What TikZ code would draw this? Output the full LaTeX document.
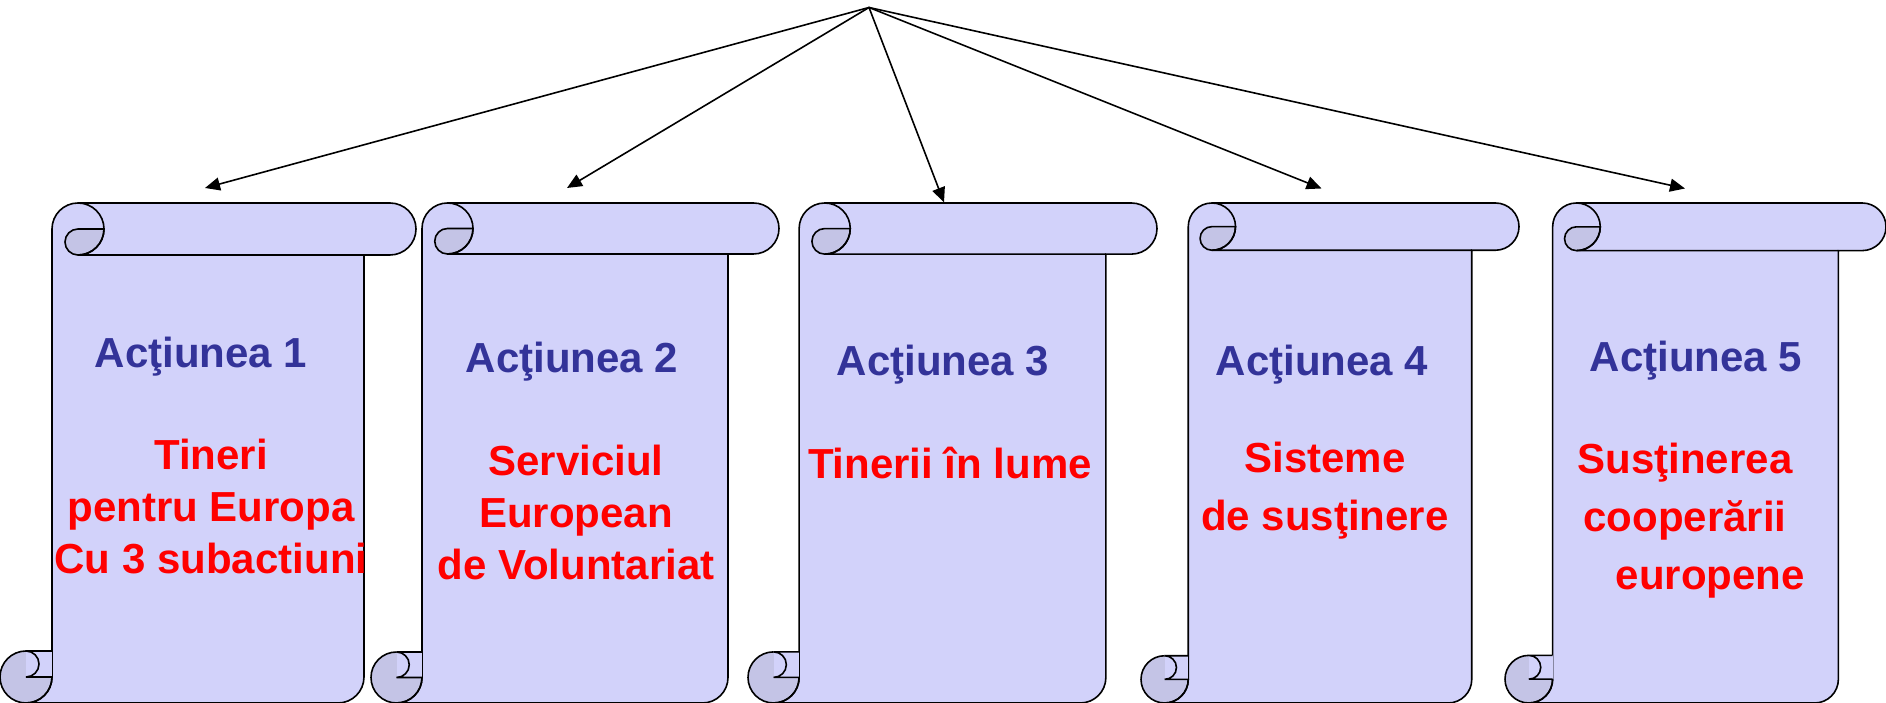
\documentclass[tikz,border=0pt]{standalone}
\usepackage{fontspec}
\setmainfont{Liberation Sans}
\usepackage{tikz}
\usepackage{tkz-euclide}
\usepackage{xcolor}
\usetikzlibrary{arrows.meta}
\definecolor{scrolllight}{RGB}{210,210,250}
\definecolor{scrolldark}{RGB}{196,196,230}
\definecolor{actblue}{RGB}{51,51,153}
\newcommand{\DrawScroll}[3]{%
  \pgfmathsetmacro{\rollD}{#2/8}%
  \pgfmathsetmacro{\rollR}{\rollD/2}%
  \pgfmathsetmacro{\rollQ}{\rollD/4}%
  \begin{scope}[shift={(#1,0)}]
    \fill[scrolldark] (\rollR,\rollR) circle[radius=\rollR pt];
    \filldraw[fill=scrolllight] (\rollR,0) -- ({#2-1.5*\rollD},0) arc[start angle=-90,end angle=0,radius=\rollR pt]
      -- ({#2-\rollD},{#3-\rollD}) -- ({#2-\rollR},{#3-\rollD}) arc[start angle=-90,end angle=90,radius=\rollR pt]
      -- ({1.5*\rollD},#3) arc[start angle=90,end angle=180,radius=\rollR pt]
      -- (\rollD,\rollR) arc[start angle=0,end angle=-90,radius=\rollR pt] -- cycle;
    \fill[scrolllight] (\rollR,\rollR) rectangle (\rollD,\rollD);
    \draw (\rollR,\rollD) arc[start angle=90,end angle=360,radius=\rollR pt];
    \draw (\rollD,\rollD) -- (\rollR,\rollD) arc[start angle=90,end angle=-90,radius=\rollQ pt] -- (\rollD,\rollR);
    \filldraw[fill=scrolldark] ({2*\rollD},{#3-\rollR}) arc[start angle=0,end angle=-90,radius=\rollR pt]
      arc[start angle=-90,end angle=-270,radius=\rollQ pt] -- cycle;
    \draw ({1.5*\rollD},#3) arc[start angle=90,end angle=-90,radius=\rollR pt] -- ({#2-\rollD},{#3-\rollD});
  \end{scope}}

\begin{document}
\begin{tikzpicture}[x=1pt,y=1pt,line width=1.6pt,
    act/.style={text=actblue,font=\bfseries\fontsize{42}{52}\selectfont,inner sep=0pt},
    desc/.style={text=red,align=center,font=\bfseries\fontsize{42}{52}\selectfont,inner sep=0pt},
    widedesc/.style={desc,font=\bfseries\fontsize{42}{58}\selectfont}]
    \useasboundingbox (0,0) rectangle (1886,703);
    \DrawScroll{0}{416}{500}
    \DrawScroll{371}{408}{500}
    \DrawScroll{748}{409}{500}
    \DrawScroll{1141}{378}{500}
    \DrawScroll{1505}{381}{500}
    \tkzDefPoint(869,695.5){A}
    \tkzDefPoint(205,515){T1}
    \tkzDefPoint(567,515){T2}
    \tkzDefPoint(944,500.5){T3}
    \tkzDefPoint(1321.5,514.5){T4}
    \tkzDefPoint(1685,514.5){T5}
    \tkzDrawSegments[line width=1.6pt,-{Triangle[length=15pt,width=13pt]}](A,T1 A,T2 A,T3 A,T4 A,T5)
    \node[act] (act1) at (201,346) {Acţiunea 1};
    \node[act] (act2) at (572,341) {Acţiunea 2};
    \node[act] (act3) at (943,338) {Acţiunea 3};
    \node[act] (act4) at (1322,338) {Acţiunea 4};
    \node[act] (act5) at (1696,342) {Acţiunea 5};
    \node[desc] (desc1) at (211,196) {Tineri\\pentru Europa\\Cu 3 subactiuni};
    \node[desc] (desc2) at (576,191) {Serviciul\\European\\de Voluntariat};
    \node[desc] (desc3) at (950,240) {Tinerii în lume};
    \node[widedesc] (desc4) at (1325,212) {Sisteme\\de susţinere};
    \node[widedesc] (desc5) at (1685,182) {Susţinerea\\cooperării\\\hspace*{1.2em}europene};
\end{tikzpicture}
\end{document}
